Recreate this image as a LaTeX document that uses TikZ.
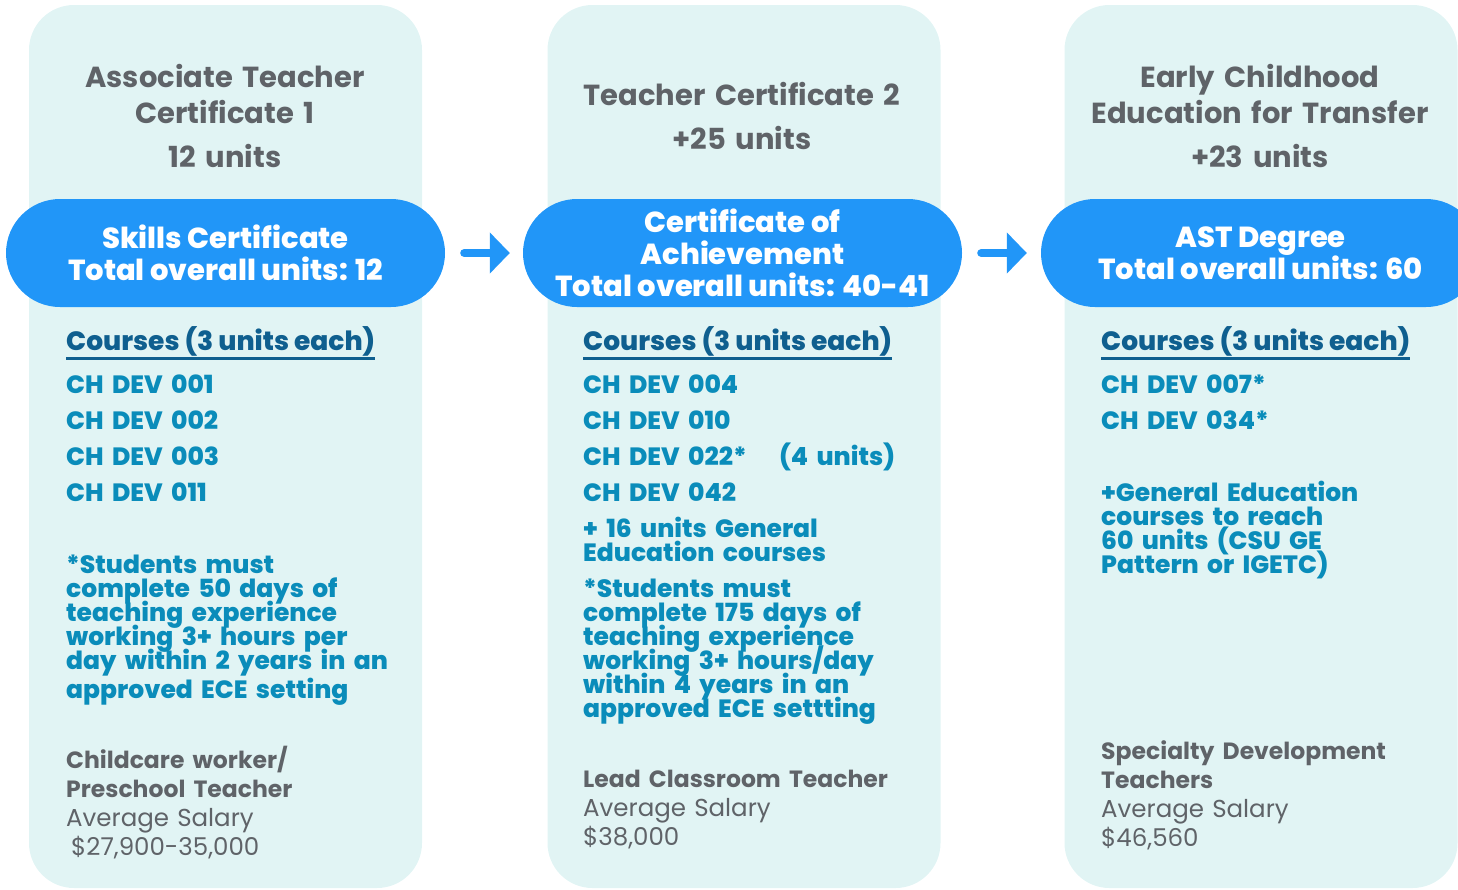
\documentclass[tikz,border=0pt]{standalone}
\usepackage{fontspec}
\setmainfont{Poppins}
\newfontfamily\heavy{Poppins ExtraBold}
\newcommand\tightlines{\lineskiplimit=-100pt\relax}
\newcommand\jobtitle[1]{{\fontsize{23.5}{29}\selectfont\bfseries #1}}
\usetikzlibrary{arrows.meta,positioning}

\definecolor{panelbg}{HTML}{E1F4F4}
\definecolor{pillblue}{HTML}{2196F8}
\definecolor{headgray}{HTML}{5F6368}
\definecolor{coursedark}{HTML}{0F5F8F}
\definecolor{itemteal}{HTML}{0A8CBA}

\begin{document}
\begin{tikzpicture}[x=1pt, y=-1pt, > = {Triangle[length=20pt,width=40pt]}]
            \tikzstyle{panel}=[fill=panelbg, rounded corners=45pt, minimum width=393pt, minimum height=883pt, inner sep=0pt]
            \tikzstyle{pill}=[fill=pillblue, rounded corners=54pt, minimum width=439pt, minimum height=108pt, inner sep=0pt, text=white, align=center, font={\heavy\fontsize{29}{32}\selectfont\tightlines}]
            \tikzstyle{head}=[anchor=base, text width=390pt, align=center, inner sep=0pt, text=headgray, font={\fontsize{29}{36}\selectfont\bfseries}]
            \tikzstyle{txt}=[anchor=base west, text width=370pt, align=left, inner sep=0pt]
            \tikzstyle{course}=[anchor=base west, inner sep=0pt, text=coursedark, font={\heavy\fontsize{26.5}{36}\selectfont}]
            \tikzstyle{item}=[txt, text=itemteal, font={\heavy\fontsize{25}{36}\selectfont}]
            \tikzstyle{note}=[txt, text=itemteal, font={\heavy\fontsize{25}{24}\selectfont\tightlines}]
            \tikzstyle{job}=[txt, text=headgray, font={\fontsize{24.5}{29}\selectfont\tightlines}]
            \tikzstyle{uline}=[coursedark, line width=3pt]
            \tikzstyle{seta}=[->, pillblue, line width=8pt, line cap=round]

            \useasboundingbox (0,0) rectangle (1458,889);

            % Painéis
            \node[panel] (col1) at (225.5,446.5) {};
            \node[panel] (col2) at (744,446.5) {};
            \node[panel] (col3) at (1261,446.5) {};

            % Títulos
            \node[head] (t1) at (225,87) {Associate Teacher\\Certificate 1};
            \node[head] (u1) at (225,167) {12 units};
            \node[head] (t2) at (742,105) {Teacher Certificate 2};
            \node[head] (u2) at (742,149) {+25 units};
            \node[head] (t3) at (1260,87) {Early Childhood\\Education for Transfer};
            \node[head] (u3) at (1260,167) {+23 units};

            % Pílulas
            \node[pill] (p1) at (225.5,253) {Skills Certificate\\Total overall units: 12};
            \node[pill] (p2) at (742.5,253) {Certificate of\\Achievement\\Total overall units: 40-41};
            \node[pill] (p3) at (1260.5,253) {AST Degree\\Total overall units: 60};

            % Setas
            \draw[seta, shorten <=19pt, shorten >=13pt] (p1) -- (p2);
            \draw[seta, shorten <=19pt, shorten >=14pt] (p2) -- (p3);

            % Coluna 1
            \node[course] (c1) at (66,350) {Courses (3 units each)};
            \draw[uline] ([yshift=-8pt]c1.base west) -- ([yshift=-8pt]c1.base east);
            \node[item] (i1) at (66,393) {CH DEV 001\\CH DEV 002\\CH DEV 003\\CH DEV 011};
            \node[note] (n1) at (66,573) {*Students must\\complete 50 days of\\teaching experience\\working 3+ hours per\\day within 2 years in an\\[5pt]approved ECE setting};
            \node[job] (j1) at (66,768) {\jobtitle{Childcare worker/}\\\jobtitle{Preschool Teacher}\\Average Salary\\\hspace*{5pt}\$27,900-35,000};

            % Coluna 2
            \node[course] (c2) at (583,350) {Courses (3 units each)};
            \draw[uline] ([yshift=-8pt]c2.base west) -- ([yshift=-8pt]c2.base east);
            \node[item] (i2) at (583,393) {CH DEV 004\\CH DEV 010\\CH DEV 022*\\CH DEV 042};
            \node[item, text width=150pt] (k2) at (779,465) {(4 units)};
            \node[note] (g2) at (583,537) {+ 16 units General\\Education courses};
            \node[note] (n2) at (583,597) {*Students must\\complete 175 days of\\teaching experience\\working 3+ hours/day\\within 4 years in an\\approved ECE settting};
            \node[job] (j2) at (583,787) {\jobtitle{Lead Classroom Teacher}\\Average Salary\\\$38,000};

            % Coluna 3
            \node[course] (c3) at (1101,350) {Courses (3 units each)};
            \draw[uline] ([yshift=-8pt]c3.base west) -- ([yshift=-8pt]c3.base east);
            \node[item] (i3) at (1101,393) {CH DEV 007*\\CH DEV 034*};
            \node[note] (g3) at (1101,501) {+General Education\\courses to reach\\60 units (CSU GE\\Pattern or IGETC)};
            \node[job] (j3) at (1101,759) {\jobtitle{Specialty Development}\\\jobtitle{Teachers}\\Average Salary\\\$46,560};
\end{tikzpicture}
\end{document}
